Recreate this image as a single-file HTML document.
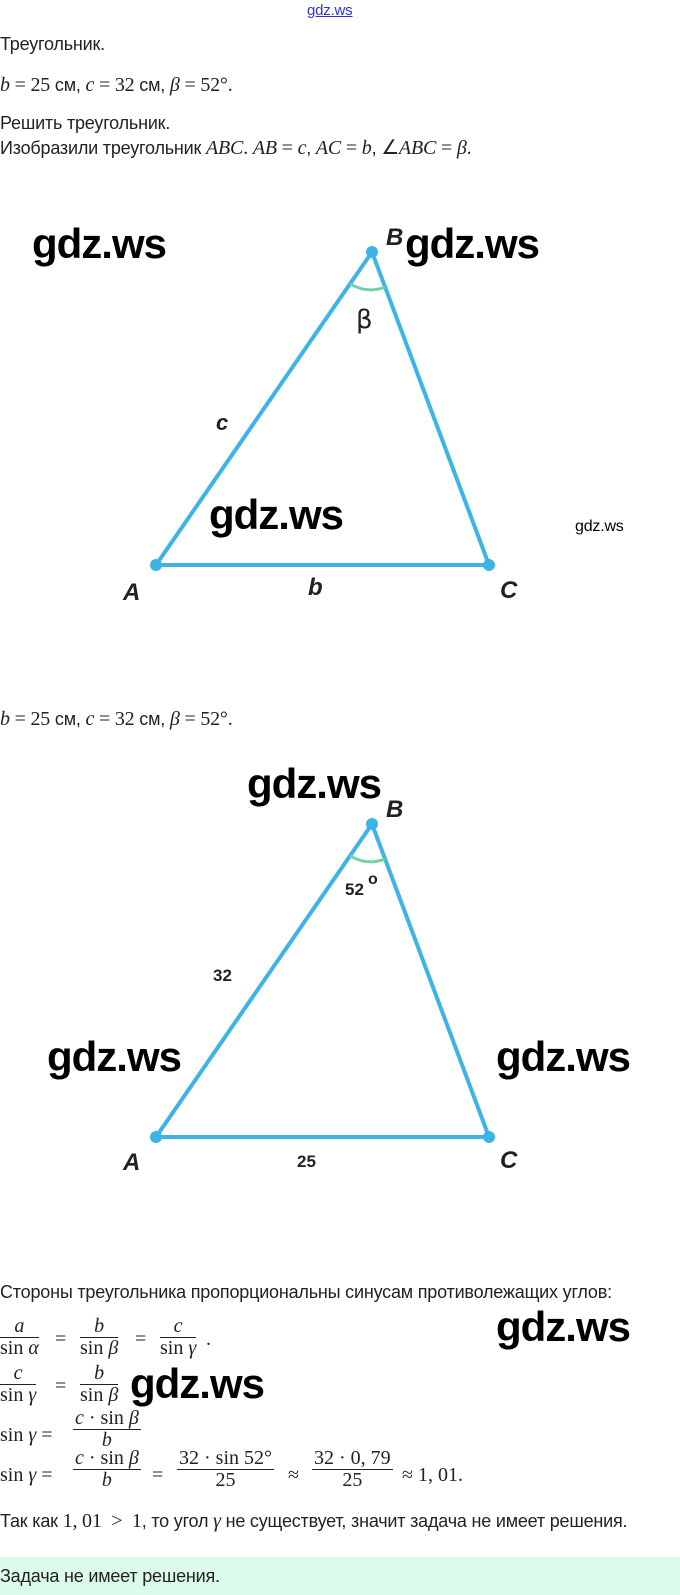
<!DOCTYPE html>
<html><head><meta charset="utf-8"><style>
body{margin:0;width:680px;height:1595px;background:#fff;position:relative;overflow:hidden;font-family:"Liberation Sans",sans-serif;color:#222}
.t{position:absolute;font-size:18px;white-space:nowrap;letter-spacing:-0.2px}
.m{font-family:"Liberation Serif",serif;font-size:20px}
.i{font-style:italic}
.w{position:absolute;font-family:"Liberation Sans",sans-serif;font-size:42px;font-weight:bold;color:#000;white-space:nowrap;letter-spacing:-1px}
.fr{position:absolute;font-family:"Liberation Serif",serif;font-size:20px;text-align:center;white-space:nowrap}
.fr .n{border-bottom:1px solid #222;padding:0 2px;line-height:21px}
.fr .d{line-height:21px}
</style></head><body>
<div class="t" style="left:307px;top:2px;font-size:15px;color:#3333cc;text-decoration:underline">gdz.ws</div>
<div class="t" style="left:0;top:34px">Треугольник.</div>
<div class="t" style="left:0;top:74px"><span class="m i">b</span> <span class="m">= 25</span> см, <span class="m i">c</span> <span class="m">= 32</span> см, <span class="m i">β</span> <span class="m">= 52°.</span></div>
<div class="t" style="left:0;top:113px">Решить треугольник.</div>
<div class="t" style="left:0;top:135px">Изобразили треугольник <span class="m i">ABC</span><span class="m">.</span> <span class="m i">AB</span> <span class="m">=</span> <span class="m i">c</span>, <span class="m i">AC</span> <span class="m">=</span> <span class="m i">b</span>, <span class="m">∠</span><span class="m i">ABC</span> <span class="m">=</span> <span class="m i">β</span><span class="m">.</span></div>

<svg style="position:absolute;left:0;top:0" width="680" height="1270">
<g stroke="#3db4e5" stroke-width="4" fill="none">
<polygon points="156,565 372,252 489,565"/>
<polygon points="156,1137 372,824 489,1137"/>
</g>
<g stroke="#6fd3a4" stroke-width="3" fill="none">
<path d="M350,284 Q368,294 385,287"/>
<path d="M350,856 Q368,866 385,859"/>
</g>
<g fill="#3db4e5">
<circle cx="156" cy="565" r="6"/><circle cx="372" cy="252" r="6"/><circle cx="489" cy="565" r="6"/>
<circle cx="156" cy="1137" r="6"/><circle cx="372" cy="824" r="6"/><circle cx="489" cy="1137" r="6"/>
</g>
<g font-family="Liberation Sans,sans-serif" font-weight="bold" font-style="italic" fill="#222" font-size="24">
<text x="123" y="600">A</text><text x="386" y="245">B</text><text x="500" y="598">C</text>
<text x="216" y="430" font-size="22">c</text><text x="308" y="595" font-size="24">b</text>
<text x="123" y="1170">A</text><text x="386" y="817">B</text><text x="500" y="1168">C</text>
</g>
<text x="356" y="328" font-family="DejaVu Sans,sans-serif" font-size="26" fill="#222">β</text>
<g font-family="Liberation Sans,sans-serif" font-weight="bold" fill="#222" font-size="17">
<text x="345" y="895">52</text><text x="368" y="884" font-size="16">o</text>
<text x="213" y="981">32</text><text x="297" y="1167">25</text>
</g>
</svg>
<div class="w" style="left:32px;top:220px">gdz.ws</div>
<div class="w" style="left:405px;top:220px">gdz.ws</div>
<div class="w" style="left:209px;top:491px">gdz.ws</div>
<div class="t" style="left:575px;top:518px;color:#000;font-size:16px">gdz.ws</div>
<div class="w" style="left:247px;top:760px">gdz.ws</div>
<div class="w" style="left:47px;top:1033px">gdz.ws</div>
<div class="w" style="left:496px;top:1033px">gdz.ws</div>

<div class="t" style="left:0;top:708px"><span class="m i">b</span> <span class="m">= 25</span> см, <span class="m i">c</span> <span class="m">= 32</span> см, <span class="m i">β</span> <span class="m">= 52°.</span></div>

<div class="t" style="left:0;top:1282px">Стороны треугольника пропорциональны синусам противолежащих углов:</div>
<div class="fr" style="left:0;top:1316px"><div class="n"><i>a</i></div><div class="d">sin <i>α</i></div></div>
<div class="fr" style="left:55px;top:1328px">=</div>
<div class="fr" style="left:80px;top:1316px"><div class="n"><i>b</i></div><div class="d">sin <i>β</i></div></div>
<div class="fr" style="left:135px;top:1328px">=</div>
<div class="fr" style="left:160px;top:1316px"><div class="n"><i>c</i></div><div class="d">sin <i>γ</i></div></div>
<div class="fr" style="left:206px;top:1328px">.</div>
<div class="fr" style="left:0;top:1363px"><div class="n"><i>c</i></div><div class="d">sin <i>γ</i></div></div>
<div class="fr" style="left:55px;top:1375px">=</div>
<div class="fr" style="left:80px;top:1363px"><div class="n"><i>b</i></div><div class="d">sin <i>β</i></div></div>
<div class="fr" style="left:0;top:1424px">sin <i>γ</i> =</div>
<div class="fr" style="left:73px;top:1408px"><div class="n"><i>c</i> · sin <i>β</i></div><div class="d"><i>b</i></div></div>
<div class="fr" style="left:0;top:1464px">sin <i>γ</i> =</div>
<div class="fr" style="left:73px;top:1448px"><div class="n"><i>c</i> · sin <i>β</i></div><div class="d"><i>b</i></div></div>
<div class="fr" style="left:152px;top:1464px">=</div>
<div class="fr" style="left:177px;top:1448px"><div class="n">32 · sin 52°</div><div class="d">25</div></div>
<div class="fr" style="left:288px;top:1464px">≈</div>
<div class="fr" style="left:312px;top:1448px"><div class="n">32 · 0, 79</div><div class="d">25</div></div>
<div class="fr" style="left:402px;top:1464px">≈ 1, 01.</div>
<div class="w" style="left:130px;top:1360px">gdz.ws</div>
<div class="w" style="left:496px;top:1303px">gdz.ws</div>
<div class="t" style="left:0;top:1510px">Так как <span class="m">1, 01 &nbsp;&gt; &nbsp;1</span>, то угол <span class="m i">γ</span> не существует, значит задача не имеет решения.</div>
<div style="position:absolute;left:0;top:1557px;width:680px;height:38px;background:#dcfbea"></div>
<div class="t" style="left:0;top:1566px">Задача не имеет решения.</div>
</body></html>
